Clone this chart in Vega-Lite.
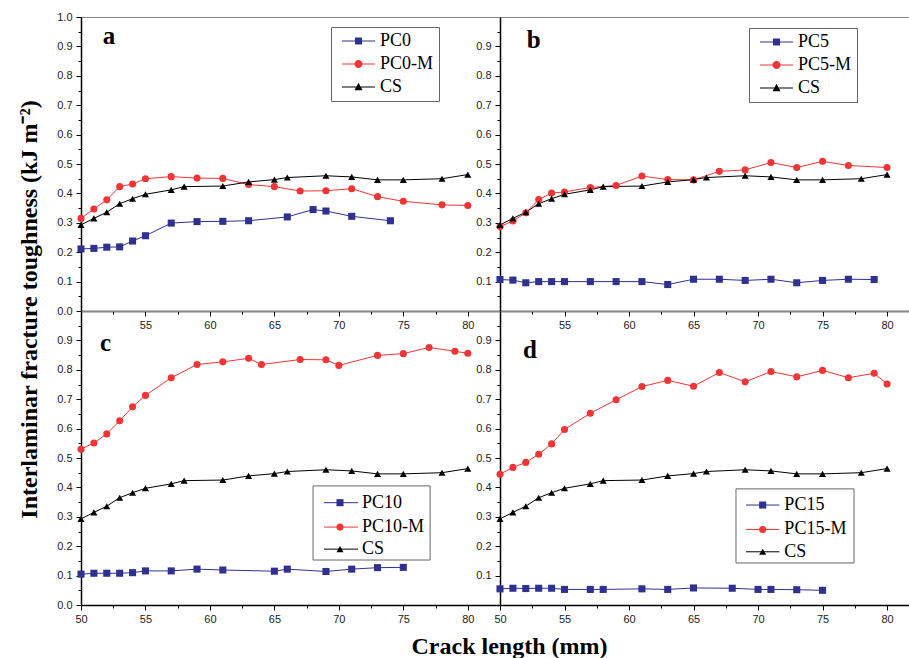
{
  "$schema": "https://vega.github.io/schema/vega-lite/v6.json",
  "padding": {"left": 16, "top": 10, "right": 0, "bottom": 0},
  "background": "white",
  "datasets": {
    "a": [
      {"x":50,"v":0.211,"s":"PC0"},{"x":51,"v":0.213,"s":"PC0"},{"x":52,"v":0.217,"s":"PC0"},{"x":53,"v":0.218,"s":"PC0"},{"x":54,"v":0.238,"s":"PC0"},{"x":55,"v":0.256,"s":"PC0"},{"x":57,"v":0.299,"s":"PC0"},{"x":59,"v":0.304,"s":"PC0"},{"x":61,"v":0.305,"s":"PC0"},{"x":63,"v":0.307,"s":"PC0"},{"x":66,"v":0.32,"s":"PC0"},{"x":68,"v":0.345,"s":"PC0"},{"x":69,"v":0.34,"s":"PC0"},{"x":71,"v":0.322,"s":"PC0"},{"x":74,"v":0.307,"s":"PC0"},
      {"x":50,"v":0.315,"s":"PC0-M"},{"x":51,"v":0.347,"s":"PC0-M"},{"x":52,"v":0.378,"s":"PC0-M"},{"x":53,"v":0.423,"s":"PC0-M"},{"x":54,"v":0.432,"s":"PC0-M"},{"x":55,"v":0.45,"s":"PC0-M"},{"x":57,"v":0.457,"s":"PC0-M"},{"x":59,"v":0.452,"s":"PC0-M"},{"x":61,"v":0.451,"s":"PC0-M"},{"x":63,"v":0.43,"s":"PC0-M"},{"x":65,"v":0.423,"s":"PC0-M"},{"x":67,"v":0.408,"s":"PC0-M"},{"x":69,"v":0.409,"s":"PC0-M"},{"x":71,"v":0.416,"s":"PC0-M"},{"x":73,"v":0.389,"s":"PC0-M"},{"x":75,"v":0.373,"s":"PC0-M"},{"x":78,"v":0.361,"s":"PC0-M"},{"x":80,"v":0.359,"s":"PC0-M"},
      {"x":50,"v":0.293,"s":"CS"},{"x":51,"v":0.315,"s":"CS"},{"x":52,"v":0.336,"s":"CS"},{"x":53,"v":0.365,"s":"CS"},{"x":54,"v":0.382,"s":"CS"},{"x":55,"v":0.397,"s":"CS"},{"x":57,"v":0.412,"s":"CS"},{"x":58,"v":0.423,"s":"CS"},{"x":61,"v":0.425,"s":"CS"},{"x":63,"v":0.439,"s":"CS"},{"x":65,"v":0.447,"s":"CS"},{"x":66,"v":0.454,"s":"CS"},{"x":69,"v":0.46,"s":"CS"},{"x":71,"v":0.456,"s":"CS"},{"x":73,"v":0.446,"s":"CS"},{"x":75,"v":0.446,"s":"CS"},{"x":78,"v":0.45,"s":"CS"},{"x":80,"v":0.464,"s":"CS"}
    ],
    "b": [
      {"x":50,"v":0.107,"s":"PC5"},{"x":51,"v":0.105,"s":"PC5"},{"x":52,"v":0.096,"s":"PC5"},{"x":53,"v":0.1,"s":"PC5"},{"x":54,"v":0.1,"s":"PC5"},{"x":55,"v":0.1,"s":"PC5"},{"x":57,"v":0.1,"s":"PC5"},{"x":59,"v":0.1,"s":"PC5"},{"x":61,"v":0.1,"s":"PC5"},{"x":63,"v":0.09,"s":"PC5"},{"x":65,"v":0.108,"s":"PC5"},{"x":67,"v":0.108,"s":"PC5"},{"x":69,"v":0.104,"s":"PC5"},{"x":71,"v":0.108,"s":"PC5"},{"x":73,"v":0.096,"s":"PC5"},{"x":75,"v":0.104,"s":"PC5"},{"x":77,"v":0.108,"s":"PC5"},{"x":79,"v":0.107,"s":"PC5"},
      {"x":50,"v":0.287,"s":"PC5-M"},{"x":51,"v":0.306,"s":"PC5-M"},{"x":52,"v":0.334,"s":"PC5-M"},{"x":53,"v":0.379,"s":"PC5-M"},{"x":54,"v":0.401,"s":"PC5-M"},{"x":55,"v":0.405,"s":"PC5-M"},{"x":57,"v":0.42,"s":"PC5-M"},{"x":59,"v":0.427,"s":"PC5-M"},{"x":61,"v":0.459,"s":"PC5-M"},{"x":63,"v":0.447,"s":"PC5-M"},{"x":65,"v":0.446,"s":"PC5-M"},{"x":67,"v":0.475,"s":"PC5-M"},{"x":69,"v":0.48,"s":"PC5-M"},{"x":71,"v":0.505,"s":"PC5-M"},{"x":73,"v":0.488,"s":"PC5-M"},{"x":75,"v":0.509,"s":"PC5-M"},{"x":77,"v":0.495,"s":"PC5-M"},{"x":80,"v":0.488,"s":"PC5-M"},
      {"x":50,"v":0.293,"s":"CS"},{"x":51,"v":0.315,"s":"CS"},{"x":52,"v":0.336,"s":"CS"},{"x":53,"v":0.365,"s":"CS"},{"x":54,"v":0.382,"s":"CS"},{"x":55,"v":0.397,"s":"CS"},{"x":57,"v":0.412,"s":"CS"},{"x":58,"v":0.423,"s":"CS"},{"x":61,"v":0.425,"s":"CS"},{"x":63,"v":0.439,"s":"CS"},{"x":65,"v":0.447,"s":"CS"},{"x":66,"v":0.454,"s":"CS"},{"x":69,"v":0.46,"s":"CS"},{"x":71,"v":0.456,"s":"CS"},{"x":73,"v":0.446,"s":"CS"},{"x":75,"v":0.446,"s":"CS"},{"x":78,"v":0.45,"s":"CS"},{"x":80,"v":0.464,"s":"CS"}
    ],
    "c": [
      {"x":50,"v":0.105,"s":"PC10"},{"x":51,"v":0.108,"s":"PC10"},{"x":52,"v":0.108,"s":"PC10"},{"x":53,"v":0.108,"s":"PC10"},{"x":54,"v":0.11,"s":"PC10"},{"x":55,"v":0.116,"s":"PC10"},{"x":57,"v":0.116,"s":"PC10"},{"x":59,"v":0.122,"s":"PC10"},{"x":61,"v":0.119,"s":"PC10"},{"x":65,"v":0.115,"s":"PC10"},{"x":66,"v":0.122,"s":"PC10"},{"x":69,"v":0.114,"s":"PC10"},{"x":71,"v":0.122,"s":"PC10"},{"x":73,"v":0.127,"s":"PC10"},{"x":75,"v":0.128,"s":"PC10"},
      {"x":50,"v":0.53,"s":"PC10-M"},{"x":51,"v":0.551,"s":"PC10-M"},{"x":52,"v":0.582,"s":"PC10-M"},{"x":53,"v":0.627,"s":"PC10-M"},{"x":54,"v":0.674,"s":"PC10-M"},{"x":55,"v":0.713,"s":"PC10-M"},{"x":57,"v":0.773,"s":"PC10-M"},{"x":59,"v":0.818,"s":"PC10-M"},{"x":61,"v":0.827,"s":"PC10-M"},{"x":63,"v":0.839,"s":"PC10-M"},{"x":64,"v":0.818,"s":"PC10-M"},{"x":67,"v":0.835,"s":"PC10-M"},{"x":69,"v":0.834,"s":"PC10-M"},{"x":70,"v":0.815,"s":"PC10-M"},{"x":73,"v":0.849,"s":"PC10-M"},{"x":75,"v":0.855,"s":"PC10-M"},{"x":77,"v":0.876,"s":"PC10-M"},{"x":79,"v":0.863,"s":"PC10-M"},{"x":80,"v":0.856,"s":"PC10-M"},
      {"x":50,"v":0.293,"s":"CS"},{"x":51,"v":0.315,"s":"CS"},{"x":52,"v":0.336,"s":"CS"},{"x":53,"v":0.365,"s":"CS"},{"x":54,"v":0.382,"s":"CS"},{"x":55,"v":0.397,"s":"CS"},{"x":57,"v":0.412,"s":"CS"},{"x":58,"v":0.423,"s":"CS"},{"x":61,"v":0.425,"s":"CS"},{"x":63,"v":0.439,"s":"CS"},{"x":65,"v":0.447,"s":"CS"},{"x":66,"v":0.454,"s":"CS"},{"x":69,"v":0.46,"s":"CS"},{"x":71,"v":0.456,"s":"CS"},{"x":73,"v":0.446,"s":"CS"},{"x":75,"v":0.446,"s":"CS"},{"x":78,"v":0.45,"s":"CS"},{"x":80,"v":0.464,"s":"CS"}
    ],
    "d": [
      {"x":50,"v":0.055,"s":"PC15"},{"x":51,"v":0.057,"s":"PC15"},{"x":52,"v":0.056,"s":"PC15"},{"x":53,"v":0.057,"s":"PC15"},{"x":54,"v":0.057,"s":"PC15"},{"x":55,"v":0.053,"s":"PC15"},{"x":57,"v":0.053,"s":"PC15"},{"x":58,"v":0.053,"s":"PC15"},{"x":61,"v":0.055,"s":"PC15"},{"x":63,"v":0.053,"s":"PC15"},{"x":65,"v":0.058,"s":"PC15"},{"x":68,"v":0.057,"s":"PC15"},{"x":70,"v":0.053,"s":"PC15"},{"x":71,"v":0.053,"s":"PC15"},{"x":73,"v":0.052,"s":"PC15"},{"x":75,"v":0.05,"s":"PC15"},
      {"x":50,"v":0.445,"s":"PC15-M"},{"x":51,"v":0.468,"s":"PC15-M"},{"x":52,"v":0.485,"s":"PC15-M"},{"x":53,"v":0.513,"s":"PC15-M"},{"x":54,"v":0.548,"s":"PC15-M"},{"x":55,"v":0.597,"s":"PC15-M"},{"x":57,"v":0.652,"s":"PC15-M"},{"x":59,"v":0.698,"s":"PC15-M"},{"x":61,"v":0.743,"s":"PC15-M"},{"x":63,"v":0.764,"s":"PC15-M"},{"x":65,"v":0.744,"s":"PC15-M"},{"x":67,"v":0.791,"s":"PC15-M"},{"x":69,"v":0.759,"s":"PC15-M"},{"x":71,"v":0.794,"s":"PC15-M"},{"x":73,"v":0.776,"s":"PC15-M"},{"x":75,"v":0.798,"s":"PC15-M"},{"x":77,"v":0.773,"s":"PC15-M"},{"x":79,"v":0.788,"s":"PC15-M"},{"x":80,"v":0.752,"s":"PC15-M"},
      {"x":50,"v":0.293,"s":"CS"},{"x":51,"v":0.315,"s":"CS"},{"x":52,"v":0.336,"s":"CS"},{"x":53,"v":0.365,"s":"CS"},{"x":54,"v":0.382,"s":"CS"},{"x":55,"v":0.397,"s":"CS"},{"x":57,"v":0.412,"s":"CS"},{"x":58,"v":0.423,"s":"CS"},{"x":61,"v":0.425,"s":"CS"},{"x":63,"v":0.439,"s":"CS"},{"x":65,"v":0.447,"s":"CS"},{"x":66,"v":0.454,"s":"CS"},{"x":69,"v":0.46,"s":"CS"},{"x":71,"v":0.456,"s":"CS"},{"x":73,"v":0.446,"s":"CS"},{"x":75,"v":0.446,"s":"CS"},{"x":78,"v":0.45,"s":"CS"},{"x":80,"v":0.464,"s":"CS"}
    ]
  },
  "columns": 2,
  "spacing": 0,
  "bounds": "flush",
  "align": "each",
  "resolve": {
    "scale": {"x": "independent", "y": "independent", "fill": "independent", "shape": "independent"},
    "axis": {"x": "independent", "y": "independent"},
    "legend": {"fill": "independent", "shape": "independent"}
  },
  "concat": [
    {
      "width": 419, "height": 294,
      "data": {"name": "a"},
      "resolve": {"axis": {"x": "independent", "y": "independent"}},
      "layer": [
        {
          "mark": {"type": "point", "filled": true, "opacity": 0},
          "encoding": {
            "x": {"field": "x", "type": "quantitative", "scale": {"domain": [50, 82.5], "nice": false, "zero": false}, "axis": null},
            "y": {"field": "v", "type": "quantitative", "scale": {"domain": [0, 1], "nice": false}, "axis": null},
            "fill": {"field": "s", "type": "nominal", "scale": {"domain": ["PC0", "PC0-M", "CS"], "range": ["#30318f", "#ef3535", "#000000"]}, "legend": {"orient": "none", "legendX": 250, "legendY": 10, "title": null, "symbolOpacity": 1}},
            "shape": {"field": "s", "type": "nominal", "scale": {"domain": ["PC0", "PC0-M", "CS"], "range": ["M-0.43,-0.075H4.29V0.075H-0.43ZM1.43,-0.5H2.43V0.5H1.43Z", "M-0.43,-0.075H4.29V0.075H-0.43ZM1.36,0A0.57,0.57,0,1,1,2.5,0A0.57,0.57,0,1,1,1.36,0Z", "M-0.43,-0.075H4.29V0.075H-0.43ZM1.93,-0.6L2.5,0.45L1.36,0.45Z"]}, "legend": {"orient": "none", "legendX": 250, "legendY": 10, "title": null, "symbolOpacity": 1}}
          }
        },
        {
          "transform": [{"filter": "datum.s !== 'CS' && indexof(datum.s, '-M') < 0"}],
          "mark": {"type": "line", "strokeWidth": 1, "color": "#30318f"},
          "encoding": {
            "x": {"field": "x", "type": "quantitative", "axis": {"orient": "bottom", "values": [55, 60, 65, 70, 75, 80], "format": "d", "title": null}},
            "y": {"field": "v", "type": "quantitative",
                  "axis": {"orient": "left", "values": [0, 0.1, 0.2, 0.3, 0.4, 0.5, 0.6, 0.7, 0.8, 0.9, 1.0], "format": ".1f",
                           "title": "Interlaminar fracture toughness (kJ m⁻²)", "titleX": -52, "titleY": 292, "titleAngle": -90, "titleAlign": "center", "titleBaseline": "middle"}}
          }
        },
        {
          "transform": [{"filter": "indexof(datum.s, '-M') >= 0"}],
          "mark": {"type": "line", "strokeWidth": 1, "color": "#ef3535"},
          "encoding": {"x": {"field": "x", "type": "quantitative", "axis": null}, "y": {"field": "v", "type": "quantitative", "axis": null}}
        },
        {
          "transform": [{"filter": "datum.s === 'CS'"}],
          "mark": {"type": "line", "strokeWidth": 1, "color": "#000000"},
          "encoding": {"x": {"field": "x", "type": "quantitative", "axis": null}, "y": {"field": "v", "type": "quantitative", "axis": null}}
        },
        {
          "transform": [{"filter": "datum.s !== 'CS' && indexof(datum.s, '-M') < 0"}],
          "mark": {"type": "point", "shape": "square", "filled": true, "size": 50, "opacity": 1, "color": "#30318f"},
          "encoding": {
            "x": {"field": "x", "type": "quantitative", "axis": {"orient": "bottom", "values": [52.5, 57.5, 62.5, 67.5, 72.5, 77.5], "labels": false, "tickSize": 3, "domain": false, "title": null}},
            "y": {"field": "v", "type": "quantitative", "axis": {"orient": "left", "values": [0.05, 0.15, 0.25, 0.35, 0.45, 0.55, 0.65, 0.75, 0.85, 0.95], "labels": false, "tickSize": 3, "domain": false, "title": null}}
          }
        },
        {
          "transform": [{"filter": "indexof(datum.s, '-M') >= 0"}],
          "mark": {"type": "point", "shape": "circle", "filled": true, "size": 50, "opacity": 1, "color": "#ef3535"},
          "encoding": {"x": {"field": "x", "type": "quantitative", "axis": null}, "y": {"field": "v", "type": "quantitative", "axis": null}}
        },
        {
          "transform": [{"filter": "datum.s === 'CS'"}],
          "mark": {"type": "point", "shape": "triangle-up", "filled": true, "size": 50, "opacity": 1, "color": "#000000"},
          "encoding": {"x": {"field": "x", "type": "quantitative", "axis": null}, "y": {"field": "v", "type": "quantitative", "axis": null}}
        },
        {
          "data": {"values": [{}]},
          "mark": {"type": "text", "font": "Liberation Serif", "fontWeight": "bold", "fontSize": 25, "align": "left", "baseline": "alphabetic"},
          "encoding": {"x": {"datum": 51.68, "type": "quantitative", "axis": null}, "y": {"datum": 0.907, "type": "quantitative", "axis": null}, "text": {"value": "a"}}
        }
      ]
    },
    {
      "width": 409, "height": 294,
      "data": {"name": "b"},
      "resolve": {"axis": {"x": "independent", "y": "independent"}},
      "layer": [
        {
          "mark": {"type": "point", "filled": true, "opacity": 0},
          "encoding": {
            "x": {"field": "x", "type": "quantitative", "scale": {"domain": [50, 81.7], "nice": false, "zero": false}, "axis": null},
            "y": {"field": "v", "type": "quantitative", "scale": {"domain": [0, 1], "nice": false}, "axis": null},
            "fill": {"field": "s", "type": "nominal", "scale": {"domain": ["PC5", "PC5-M", "CS"], "range": ["#30318f", "#ef3535", "#000000"]}, "legend": {"orient": "none", "legendX": 249, "legendY": 11, "title": null, "symbolOpacity": 1}},
            "shape": {"field": "s", "type": "nominal", "scale": {"domain": ["PC5", "PC5-M", "CS"], "range": ["M-0.43,-0.075H4.29V0.075H-0.43ZM1.43,-0.5H2.43V0.5H1.43Z", "M-0.43,-0.075H4.29V0.075H-0.43ZM1.36,0A0.57,0.57,0,1,1,2.5,0A0.57,0.57,0,1,1,1.36,0Z", "M-0.43,-0.075H4.29V0.075H-0.43ZM1.93,-0.6L2.5,0.45L1.36,0.45Z"]}, "legend": {"orient": "none", "legendX": 249, "legendY": 11, "title": null, "symbolOpacity": 1}}
          }
        },
        {
          "transform": [{"filter": "datum.s !== 'CS' && indexof(datum.s, '-M') < 0"}],
          "mark": {"type": "line", "strokeWidth": 1, "color": "#30318f"},
          "encoding": {
            "x": {"field": "x", "type": "quantitative", "axis": {"orient": "bottom", "values": [55, 60, 65, 70, 75, 80], "format": "d", "title": null}},
            "y": {"field": "v", "type": "quantitative", "axis": {"orient": "left", "values": [0.1, 0.2, 0.3, 0.4, 0.5, 0.6, 0.7, 0.8, 0.9], "format": ".1f", "title": null}}
          }
        },
        {
          "transform": [{"filter": "indexof(datum.s, '-M') >= 0"}],
          "mark": {"type": "line", "strokeWidth": 1, "color": "#ef3535"},
          "encoding": {"x": {"field": "x", "type": "quantitative", "axis": null}, "y": {"field": "v", "type": "quantitative", "axis": null}}
        },
        {
          "transform": [{"filter": "datum.s === 'CS'"}],
          "mark": {"type": "line", "strokeWidth": 1, "color": "#000000"},
          "encoding": {"x": {"field": "x", "type": "quantitative", "axis": null}, "y": {"field": "v", "type": "quantitative", "axis": null}}
        },
        {
          "transform": [{"filter": "datum.s !== 'CS' && indexof(datum.s, '-M') < 0"}],
          "mark": {"type": "point", "shape": "square", "filled": true, "size": 50, "opacity": 1, "color": "#30318f"},
          "encoding": {
            "x": {"field": "x", "type": "quantitative", "axis": {"orient": "bottom", "values": [52.5, 57.5, 62.5, 67.5, 72.5, 77.5], "labels": false, "tickSize": 3, "domain": false, "title": null}},
            "y": {"field": "v", "type": "quantitative", "axis": {"orient": "left", "values": [0.05, 0.15, 0.25, 0.35, 0.45, 0.55, 0.65, 0.75, 0.85, 0.95], "labels": false, "tickSize": 3, "domain": false, "title": null}}
          }
        },
        {
          "transform": [{"filter": "indexof(datum.s, '-M') >= 0"}],
          "mark": {"type": "point", "shape": "circle", "filled": true, "size": 50, "opacity": 1, "color": "#ef3535"},
          "encoding": {"x": {"field": "x", "type": "quantitative", "axis": null}, "y": {"field": "v", "type": "quantitative", "axis": null}}
        },
        {
          "transform": [{"filter": "datum.s === 'CS'"}],
          "mark": {"type": "point", "shape": "triangle-up", "filled": true, "size": 50, "opacity": 1, "color": "#000000"},
          "encoding": {"x": {"field": "x", "type": "quantitative", "axis": null}, "y": {"field": "v", "type": "quantitative", "axis": null}}
        },
        {
          "data": {"values": [{}]},
          "mark": {"type": "text", "font": "Liberation Serif", "fontWeight": "bold", "fontSize": 25, "align": "left", "baseline": "alphabetic"},
          "encoding": {"x": {"datum": 52.07, "type": "quantitative", "axis": null}, "y": {"datum": 0.896, "type": "quantitative", "axis": null}, "text": {"value": "b"}}
        }
      ]
    },
    {
      "width": 419, "height": 294,
      "data": {"name": "c"},
      "resolve": {"axis": {"x": "independent", "y": "independent"}},
      "layer": [
        {
          "transform": [{"filter": "datum.s !== 'CS' && indexof(datum.s, '-M') < 0"}],
          "mark": {"type": "line", "strokeWidth": 1, "color": "#30318f"},
          "encoding": {
            "x": {"field": "x", "type": "quantitative", "scale": {"domain": [50, 82.5], "nice": false, "zero": false},
                  "axis": {"orient": "bottom", "values": [50, 55, 60, 65, 70, 75, 80], "format": "d",
                           "title": "Crack length (mm)", "titleX": 428, "titleY": 48, "titleAlign": "center", "titleBaseline": "alphabetic"}},
            "y": {"field": "v", "type": "quantitative", "scale": {"domain": [0, 1], "nice": false},
                  "axis": {"orient": "left", "values": [0, 0.1, 0.2, 0.3, 0.4, 0.5, 0.6, 0.7, 0.8, 0.9], "format": ".1f", "title": null}}
          }
        },
        {
          "transform": [{"filter": "indexof(datum.s, '-M') >= 0"}],
          "mark": {"type": "line", "strokeWidth": 1, "color": "#ef3535"},
          "encoding": {"x": {"field": "x", "type": "quantitative", "axis": null}, "y": {"field": "v", "type": "quantitative", "axis": null}}
        },
        {
          "transform": [{"filter": "datum.s === 'CS'"}],
          "mark": {"type": "line", "strokeWidth": 1, "color": "#000000"},
          "encoding": {"x": {"field": "x", "type": "quantitative", "axis": null}, "y": {"field": "v", "type": "quantitative", "axis": null}}
        },
        {
          "transform": [{"filter": "datum.s !== 'CS' && indexof(datum.s, '-M') < 0"}],
          "mark": {"type": "point", "shape": "square", "filled": true, "size": 50, "opacity": 1, "color": "#30318f"},
          "encoding": {
            "x": {"field": "x", "type": "quantitative", "axis": {"orient": "bottom", "values": [52.5, 57.5, 62.5, 67.5, 72.5, 77.5], "labels": false, "tickSize": 3, "domain": false, "title": null}},
            "y": {"field": "v", "type": "quantitative", "axis": {"orient": "left", "values": [0.05, 0.15, 0.25, 0.35, 0.45, 0.55, 0.65, 0.75, 0.85, 0.95], "labels": false, "tickSize": 3, "domain": false, "title": null}}
          }
        },
        {
          "transform": [{"filter": "indexof(datum.s, '-M') >= 0"}],
          "mark": {"type": "point", "shape": "circle", "filled": true, "size": 50, "opacity": 1, "color": "#ef3535"},
          "encoding": {"x": {"field": "x", "type": "quantitative", "axis": null}, "y": {"field": "v", "type": "quantitative", "axis": null}}
        },
        {
          "transform": [{"filter": "datum.s === 'CS'"}],
          "mark": {"type": "point", "shape": "triangle-up", "filled": true, "size": 50, "opacity": 1, "color": "#000000"},
          "encoding": {"x": {"field": "x", "type": "quantitative", "axis": null}, "y": {"field": "v", "type": "quantitative", "axis": null}}
        },
        {
          "data": {"values": [{}]},
          "mark": {"type": "rect", "fill": "#ffffff", "stroke": "#666666", "strokeWidth": 1},
          "encoding": {"x": {"datum": 68.0, "type": "quantitative", "axis": null}, "x2": {"datum": 77.08}, "y": {"datum": 0.405, "type": "quantitative", "axis": null}, "y2": {"datum": 0.153}}
        },
        {
          "data": {"values": [{}]},
          "mark": {"type": "rule", "strokeWidth": 1, "color": "#30318f"},
          "encoding": {"x": {"datum": 68.85, "type": "quantitative", "axis": null}, "x2": {"datum": 71.49}, "y": {"datum": 0.348, "type": "quantitative", "axis": null}}
        },
        {
          "data": {"values": [{}]},
          "mark": {"type": "rule", "strokeWidth": 1, "color": "#ef3535"},
          "encoding": {"x": {"datum": 68.85, "type": "quantitative", "axis": null}, "x2": {"datum": 71.49}, "y": {"datum": 0.265, "type": "quantitative", "axis": null}}
        },
        {
          "data": {"values": [{}]},
          "mark": {"type": "rule", "strokeWidth": 1, "color": "#000000"},
          "encoding": {"x": {"datum": 68.85, "type": "quantitative", "axis": null}, "x2": {"datum": 71.49}, "y": {"datum": 0.19, "type": "quantitative", "axis": null}}
        },
        {
          "data": {"values": [{}]},
          "mark": {"type": "point", "shape": "square", "filled": true, "size": 50, "opacity": 1, "color": "#30318f"},
          "encoding": {"x": {"datum": 70.09, "type": "quantitative", "axis": null}, "y": {"datum": 0.348, "type": "quantitative", "axis": null}}
        },
        {
          "data": {"values": [{}]},
          "mark": {"type": "point", "shape": "circle", "filled": true, "size": 50, "opacity": 1, "color": "#ef3535"},
          "encoding": {"x": {"datum": 70.09, "type": "quantitative", "axis": null}, "y": {"datum": 0.265, "type": "quantitative", "axis": null}}
        },
        {
          "data": {"values": [{}]},
          "mark": {"type": "point", "shape": "triangle-up", "filled": true, "size": 50, "opacity": 1, "color": "#000000"},
          "encoding": {"x": {"datum": 70.09, "type": "quantitative", "axis": null}, "y": {"datum": 0.19, "type": "quantitative", "axis": null}}
        },
        {
          "data": {"values": [{}]},
          "mark": {"type": "text", "font": "Liberation Serif", "fontSize": 18, "align": "left", "baseline": "middle", "color": "#000000"},
          "encoding": {"x": {"datum": 71.8, "type": "quantitative", "axis": null}, "y": {"datum": 0.348, "type": "quantitative", "axis": null}, "text": {"value": "PC10"}}
        },
        {
          "data": {"values": [{}]},
          "mark": {"type": "text", "font": "Liberation Serif", "fontSize": 18, "align": "left", "baseline": "middle", "color": "#000000"},
          "encoding": {"x": {"datum": 71.8, "type": "quantitative", "axis": null}, "y": {"datum": 0.265, "type": "quantitative", "axis": null}, "text": {"value": "PC10-M"}}
        },
        {
          "data": {"values": [{}]},
          "mark": {"type": "text", "font": "Liberation Serif", "fontSize": 18, "align": "left", "baseline": "middle", "color": "#000000"},
          "encoding": {"x": {"datum": 71.8, "type": "quantitative", "axis": null}, "y": {"datum": 0.19, "type": "quantitative", "axis": null}, "text": {"value": "CS"}}
        },
        {
          "data": {"values": [{}]},
          "mark": {"type": "text", "font": "Liberation Serif", "fontWeight": "bold", "fontSize": 25, "align": "left", "baseline": "alphabetic"},
          "encoding": {"x": {"datum": 51.47, "type": "quantitative", "axis": null}, "y": {"datum": 0.864, "type": "quantitative", "axis": null}, "text": {"value": "c"}}
        }
      ]
    },
    {
      "width": 409, "height": 294,
      "data": {"name": "d"},
      "resolve": {"axis": {"x": "independent", "y": "independent"}},
      "layer": [
        {
          "transform": [{"filter": "datum.s !== 'CS' && indexof(datum.s, '-M') < 0"}],
          "mark": {"type": "line", "strokeWidth": 1, "color": "#30318f"},
          "encoding": {
            "x": {"field": "x", "type": "quantitative", "scale": {"domain": [50, 81.7], "nice": false, "zero": false},
                  "axis": {"orient": "bottom", "values": [50, 55, 60, 65, 70, 75, 80], "format": "d", "title": null}},
            "y": {"field": "v", "type": "quantitative", "scale": {"domain": [0, 1], "nice": false},
                  "axis": {"orient": "left", "values": [0.1, 0.2, 0.3, 0.4, 0.5, 0.6, 0.7, 0.8, 0.9], "format": ".1f", "title": null}}
          }
        },
        {
          "transform": [{"filter": "indexof(datum.s, '-M') >= 0"}],
          "mark": {"type": "line", "strokeWidth": 1, "color": "#ef3535"},
          "encoding": {"x": {"field": "x", "type": "quantitative", "axis": null}, "y": {"field": "v", "type": "quantitative", "axis": null}}
        },
        {
          "transform": [{"filter": "datum.s === 'CS'"}],
          "mark": {"type": "line", "strokeWidth": 1, "color": "#000000"},
          "encoding": {"x": {"field": "x", "type": "quantitative", "axis": null}, "y": {"field": "v", "type": "quantitative", "axis": null}}
        },
        {
          "transform": [{"filter": "datum.s !== 'CS' && indexof(datum.s, '-M') < 0"}],
          "mark": {"type": "point", "shape": "square", "filled": true, "size": 50, "opacity": 1, "color": "#30318f"},
          "encoding": {
            "x": {"field": "x", "type": "quantitative", "axis": {"orient": "bottom", "values": [52.5, 57.5, 62.5, 67.5, 72.5, 77.5], "labels": false, "tickSize": 3, "domain": false, "title": null}},
            "y": {"field": "v", "type": "quantitative", "axis": {"orient": "left", "values": [0.05, 0.15, 0.25, 0.35, 0.45, 0.55, 0.65, 0.75, 0.85, 0.95], "labels": false, "tickSize": 3, "domain": false, "title": null}}
          }
        },
        {
          "transform": [{"filter": "indexof(datum.s, '-M') >= 0"}],
          "mark": {"type": "point", "shape": "circle", "filled": true, "size": 50, "opacity": 1, "color": "#ef3535"},
          "encoding": {"x": {"field": "x", "type": "quantitative", "axis": null}, "y": {"field": "v", "type": "quantitative", "axis": null}}
        },
        {
          "transform": [{"filter": "datum.s === 'CS'"}],
          "mark": {"type": "point", "shape": "triangle-up", "filled": true, "size": 50, "opacity": 1, "color": "#000000"},
          "encoding": {"x": {"field": "x", "type": "quantitative", "axis": null}, "y": {"field": "v", "type": "quantitative", "axis": null}}
        },
        {
          "data": {"values": [{}]},
          "mark": {"type": "rect", "fill": "#ffffff", "stroke": "#666666", "strokeWidth": 1},
          "encoding": {"x": {"datum": 68.29, "type": "quantitative", "axis": null}, "x2": {"datum": 77.44}, "y": {"datum": 0.395, "type": "quantitative", "axis": null}, "y2": {"datum": 0.143}}
        },
        {
          "data": {"values": [{}]},
          "mark": {"type": "rule", "strokeWidth": 1, "color": "#30318f"},
          "encoding": {"x": {"datum": 69.07, "type": "quantitative", "axis": null}, "x2": {"datum": 71.65}, "y": {"datum": 0.34, "type": "quantitative", "axis": null}}
        },
        {
          "data": {"values": [{}]},
          "mark": {"type": "rule", "strokeWidth": 1, "color": "#ef3535"},
          "encoding": {"x": {"datum": 69.07, "type": "quantitative", "axis": null}, "x2": {"datum": 71.65}, "y": {"datum": 0.257, "type": "quantitative", "axis": null}}
        },
        {
          "data": {"values": [{}]},
          "mark": {"type": "rule", "strokeWidth": 1, "color": "#000000"},
          "encoding": {"x": {"datum": 69.07, "type": "quantitative", "axis": null}, "x2": {"datum": 71.65}, "y": {"datum": 0.181, "type": "quantitative", "axis": null}}
        },
        {
          "data": {"values": [{}]},
          "mark": {"type": "point", "shape": "square", "filled": true, "size": 50, "opacity": 1, "color": "#30318f"},
          "encoding": {"x": {"datum": 70.36, "type": "quantitative", "axis": null}, "y": {"datum": 0.34, "type": "quantitative", "axis": null}}
        },
        {
          "data": {"values": [{}]},
          "mark": {"type": "point", "shape": "circle", "filled": true, "size": 50, "opacity": 1, "color": "#ef3535"},
          "encoding": {"x": {"datum": 70.36, "type": "quantitative", "axis": null}, "y": {"datum": 0.257, "type": "quantitative", "axis": null}}
        },
        {
          "data": {"values": [{}]},
          "mark": {"type": "point", "shape": "triangle-up", "filled": true, "size": 50, "opacity": 1, "color": "#000000"},
          "encoding": {"x": {"datum": 70.36, "type": "quantitative", "axis": null}, "y": {"datum": 0.181, "type": "quantitative", "axis": null}}
        },
        {
          "data": {"values": [{}]},
          "mark": {"type": "text", "font": "Liberation Serif", "fontSize": 18, "align": "left", "baseline": "middle", "color": "#000000"},
          "encoding": {"x": {"datum": 72.04, "type": "quantitative", "axis": null}, "y": {"datum": 0.34, "type": "quantitative", "axis": null}, "text": {"value": "PC15"}}
        },
        {
          "data": {"values": [{}]},
          "mark": {"type": "text", "font": "Liberation Serif", "fontSize": 18, "align": "left", "baseline": "middle", "color": "#000000"},
          "encoding": {"x": {"datum": 72.04, "type": "quantitative", "axis": null}, "y": {"datum": 0.257, "type": "quantitative", "axis": null}, "text": {"value": "PC15-M"}}
        },
        {
          "data": {"values": [{}]},
          "mark": {"type": "text", "font": "Liberation Serif", "fontSize": 18, "align": "left", "baseline": "middle", "color": "#000000"},
          "encoding": {"x": {"datum": 72.04, "type": "quantitative", "axis": null}, "y": {"datum": 0.181, "type": "quantitative", "axis": null}, "text": {"value": "CS"}}
        },
        {
          "data": {"values": [{}]},
          "mark": {"type": "text", "font": "Liberation Serif", "fontWeight": "bold", "fontSize": 25, "align": "left", "baseline": "alphabetic"},
          "encoding": {"x": {"datum": 51.78, "type": "quantitative", "axis": null}, "y": {"datum": 0.839, "type": "quantitative", "axis": null}, "text": {"value": "d"}}
        }
      ]
    }
  ],
  "config": {
    "view": {"stroke": "#888888", "strokeWidth": 1},
    "axis": {
      "labelFont": "Liberation Sans", "labelFontSize": 11, "labelColor": "#222222", "labelFlush": false,
      "domainColor": "#000000", "domainWidth": 1.5, "tickColor": "#000000", "tickSize": 5, "tickWidth": 1,
      "grid": false, "labelPadding": 3,
      "titleFont": "Liberation Serif", "titleFontWeight": "bold", "titleFontSize": 24, "titleColor": "#000000"
    },
    "axisY": {"labelPadding": 4},
    "legend": {
      "title": null, "labelFont": "Liberation Serif", "labelFontSize": 18, "labelColor": "#000000",
      "labelOffset": 26, "symbolSize": 196, "symbolStrokeWidth": 0, "symbolOpacity": 1, "padding": 5, "rowPadding": 5,
      "strokeColor": "#666666", "fillColor": "#ffffff", "labelLimit": 200
    }
  }
}
